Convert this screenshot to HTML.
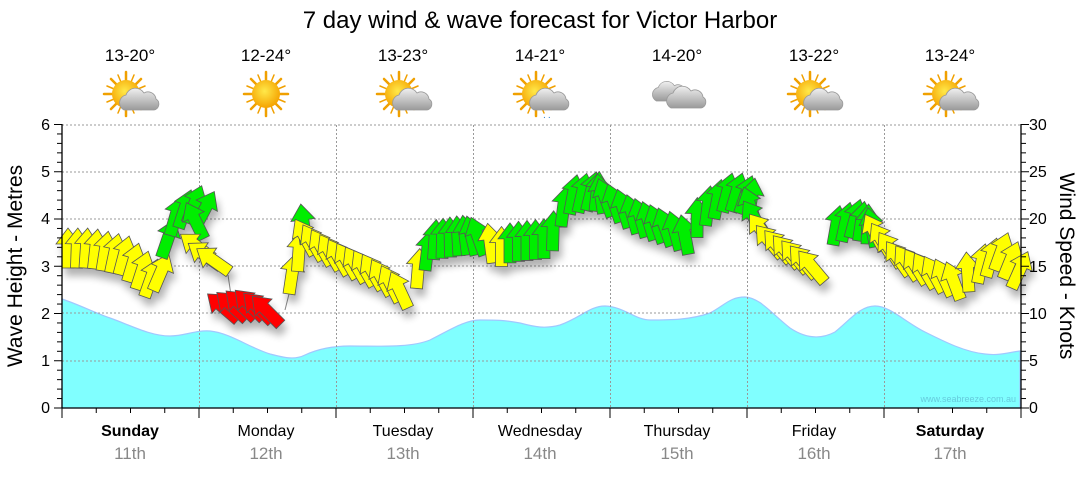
<!DOCTYPE html>
<html><head><meta charset="utf-8"><style>
body{margin:0;background:#fff;width:1080px;height:475px;overflow:hidden;font-family:"Liberation Sans",sans-serif}
</style></head><body>
<svg id="s" width="1080" height="475" xmlns="http://www.w3.org/2000/svg" font-family="Liberation Sans, sans-serif">
<defs>
<radialGradient id="sun" cx="45%" cy="40%" r="60%"><stop offset="0" stop-color="#ffe94a"/><stop offset="1" stop-color="#f5a300"/></radialGradient>
<linearGradient id="cl" x1="0" y1="0" x2="0" y2="1"><stop offset="0" stop-color="#f0f0f0"/><stop offset="1" stop-color="#9a9a9a"/></linearGradient>
<filter id="sh" x="-20%" y="-20%" width="140%" height="160%"><feGaussianBlur stdDeviation="4"/></filter>
<g id="rays"><g stroke="#f0a000" stroke-width="2.5" stroke-linecap="round">
<line x1="0" y1="-22" x2="0" y2="22"/><line x1="-22" y1="0" x2="22" y2="0"/><line x1="-15" y1="-15" x2="15" y2="15"/><line x1="-15" y1="15" x2="15" y2="-15"/>
<line x1="-8" y1="-19" x2="8" y2="19" stroke-width="1.5"/><line x1="8" y1="-19" x2="-8" y2="19" stroke-width="1.5"/><line x1="-19" y1="-8" x2="19" y2="8" stroke-width="1.5"/><line x1="-19" y1="8" x2="19" y2="-8" stroke-width="1.5"/></g>
<circle r="14" fill="url(#sun)"/></g>
<g id="cloud"><path d="M-14,10 a8,8 0 0 1 2,-15 a10,10 0 0 1 18,-2 a8,8 0 0 1 12,6 a6,6 0 0 1 -2,11 z" fill="url(#cl)" stroke="#999" stroke-width="0.8"/></g>
</defs>
<text x="540" y="28" font-size="24" text-anchor="middle" fill="#000">7 day wind &amp; wave forecast for Victor Harbor</text>
<g font-size="17" text-anchor="middle" fill="#000">
<text x="130" y="61">13-20°</text><text x="266" y="61">12-24°</text><text x="403" y="61">13-23°</text><text x="540" y="61">14-21°</text><text x="677" y="61">14-20°</text><text x="814" y="61">13-22°</text><text x="950" y="61">13-24°</text></g>
<g transform="translate(126,94)"><use href="#rays"/><use href="#cloud" transform="translate(12,6)"/></g>
<g transform="translate(266,94)"><use href="#rays"/></g>
<g transform="translate(399,94)"><use href="#rays"/><use href="#cloud" transform="translate(12,6)"/></g>
<g transform="translate(536,94)"><use href="#rays"/><use href="#cloud" transform="translate(12,6)"/><text x="6" y="26" font-size="9" fill="#2a7fd0">٠٠</text></g>
<g transform="translate(677,94)"><use href="#cloud" transform="translate(-8,-2) scale(0.9)"/><use href="#cloud" transform="translate(8,4)"/></g>
<g transform="translate(810,94)"><use href="#rays"/><use href="#cloud" transform="translate(12,6)"/></g>
<g transform="translate(946,94)"><use href="#rays"/><use href="#cloud" transform="translate(12,6)"/></g>

<path d="M62,299 C80,305 95,313 110,318 C130,325 150,336 170,336 C185,336 195,330 210,331 C230,333 250,348 270,354 C285,358 295,360 305,355 C320,348 335,346 350,346 C380,346 410,348 430,340 C450,330 465,320 480,320 C495,320 505,320 520,323 C535,327 545,329 560,325 C580,318 590,306 605,306 C625,307 635,320 650,320 C670,320 690,320 710,313 C725,305 730,297 745,297 C760,298 770,312 790,328 C805,338 820,340 835,332 C850,320 860,306 875,306 C890,306 905,322 925,332 C945,342 965,352 985,354 C1000,356 1010,352 1020,351 L1020,408 L62,408 Z" fill="#80ffff" stroke="#a0c8ff" stroke-width="1.2"/>

<g stroke="#999" stroke-width="1" stroke-dasharray="2,2" fill="none">
<line x1="62" y1="125" x2="1020" y2="125"/><line x1="62" y1="172" x2="1020" y2="172"/><line x1="62" y1="219" x2="1020" y2="219"/><line x1="62" y1="266" x2="1020" y2="266"/><line x1="62" y1="313" x2="1020" y2="313"/><line x1="62" y1="361" x2="1020" y2="361"/>
<line x1="199.5" y1="125" x2="199.5" y2="408"/><line x1="336.5" y1="125" x2="336.5" y2="408"/><line x1="473.5" y1="125" x2="473.5" y2="408"/><line x1="610.5" y1="125" x2="610.5" y2="408"/><line x1="747.5" y1="125" x2="747.5" y2="408"/><line x1="884.5" y1="125" x2="884.5" y2="408"/></g>
<g stroke="#888" stroke-width="1"><line x1="228" y1="275" x2="235" y2="322"/><line x1="292" y1="282" x2="285" y2="310"/></g>
<g id="ar"></g>
<text x="1016" y="402" font-size="9" fill="#66ccdd" text-anchor="end">www.seabreeze.com.au</text>
<g stroke="#000" stroke-width="1.3"><line x1="62" y1="124" x2="62" y2="408"/><line x1="62" y1="408" x2="1021" y2="408"/><line x1="1021" y1="124" x2="1021" y2="408"/></g>
<g id="tk" stroke="#000" stroke-width="1"></g>
<g font-size="16" fill="#000" text-anchor="end"><text x="50" y="413">0</text><text x="50" y="366">1</text><text x="50" y="319">2</text><text x="50" y="272">3</text><text x="50" y="224">4</text><text x="50" y="177">5</text><text x="50" y="130">6</text></g>
<g font-size="16" fill="#000"><text x="1029" y="413">0</text><text x="1029" y="366">5</text><text x="1029" y="319">10</text><text x="1029" y="272">15</text><text x="1029" y="224">20</text><text x="1029" y="177">25</text><text x="1029" y="130">30</text></g>
<text transform="translate(22,266) rotate(-90)" font-size="21" text-anchor="middle">Wave Height - Metres</text>
<text transform="translate(1060,266) rotate(90)" font-size="21" text-anchor="middle">Wind Speed - Knots</text>
<g font-size="16" text-anchor="middle"><text x="130" y="436" font-weight="bold">Sunday</text><text x="266" y="436">Monday</text><text x="403" y="436">Tuesday</text><text x="540" y="436">Wednesday</text><text x="677" y="436">Thursday</text><text x="814" y="436">Friday</text><text x="950" y="436" font-weight="bold">Saturday</text></g>
<g font-size="17" text-anchor="middle" fill="#888"><text x="130" y="459">11th</text><text x="266" y="459">12th</text><text x="403" y="459">13th</text><text x="540" y="459">14th</text><text x="677" y="459">15th</text><text x="814" y="459">16th</text><text x="950" y="459">17th</text></g>
</svg>
<script>
var NS="http://www.w3.org/2000/svg";
var tk=document.getElementById("tk");
function ln(g,a,b,c,d){var l=document.createElementNS(NS,"line");l.setAttribute("x1",a);l.setAttribute("y1",b);l.setAttribute("x2",c);l.setAttribute("y2",d);g.appendChild(l);}
for(var i=0;i<=30;i++){var y=408-i*283.5/30;ln(tk,i%5?57:54,y,62,y);ln(tk,1021,y,i%5?1026:1029,y);}
for(var d=0;d<=7;d++){var x=62+d*137;ln(tk,x,408,x,418);for(var q=1;q<4&&d<7;q++){ln(tk,x+q*34.25,408,x+q*34.25,413);}}
var K=[[68,268,0,'y'],[90,268,5,'y'],[120,275,15,'y'],[148,300,20,'y'],[156,285,25,'y'],[165,240,15,'g'],[185,222,20,'g'],[198,228,30,'g'],[206,242,-45,'g'],[214,262,-55,'y'],[230,272,-55,'y'],[236,320,-50,'r'],[262,318,-45,'r'],[282,325,-45,'r'],[286,300,10,'y'],[296,280,5,'y'],[303,240,0,'g'],[315,255,-30,'y'],[350,275,-30,'y'],[385,290,-30,'y'],[408,308,-25,'y'],[418,285,10,'y'],[430,260,5,'g'],[465,255,-5,'g'],[485,255,-20,'g'],[498,268,0,'y'],[512,262,0,'g'],[550,258,0,'g'],[565,215,10,'g'],[590,210,15,'g'],[610,215,-20,'g'],[640,235,-15,'g'],[670,245,-20,'g'],[690,255,-10,'g'],[700,230,5,'g'],[725,210,15,'g'],[745,215,20,'g'],[760,228,-30,'g'],[780,255,-40,'y'],[805,270,-40,'y'],[825,282,-40,'y'],[833,245,10,'g'],[850,238,15,'g'],[870,245,0,'g'],[885,250,-30,'y'],[910,275,-35,'y'],[940,290,-30,'y'],[962,300,-20,'y'],[975,285,10,'y'],[995,270,20,'y'],[1015,292,25,'y']];
var C={y:'#ffff00',g:'#00ee00',r:'#ff0000'};
var ar=document.getElementById("ar");
var sh=document.createElementNS(NS,"g");sh.setAttribute("filter","url(#sh)");sh.setAttribute("opacity","0.3");ar.appendChild(sh);
var P="M-6,0 L6,0 L6,-24 L12,-24 L0,-40 L-12,-24 L-6,-24 Z";
var pts=[];
for(var x=68;x<=1016;x+=8.5){var k=0;while(k<K.length-2&&K[k+1][0]<x)k++;var a=K[k],b=K[k+1];var t=Math.min(1,Math.max(0,(x-a[0])/(b[0]-a[0])));pts.push([x,a[1]+(b[1]-a[1])*t,a[2]+(b[2]-a[2])*t,t<0.5?a[3]:b[3]]);}
pts.forEach(function(p){var s=document.createElementNS(NS,"path");s.setAttribute("d",P);s.setAttribute("fill","#000");s.setAttribute("transform","translate("+(p[0]+3)+","+(p[1]+8)+") rotate("+p[2]+")");sh.appendChild(s);});
pts.forEach(function(p){var s=document.createElementNS(NS,"path");s.setAttribute("d",P);s.setAttribute("fill",C[p[3]]);s.setAttribute("stroke","#555");s.setAttribute("stroke-width","0.8");s.setAttribute("transform","translate("+p[0]+","+p[1]+") rotate("+p[2]+")");ar.appendChild(s);});
</script>
</body></html>
